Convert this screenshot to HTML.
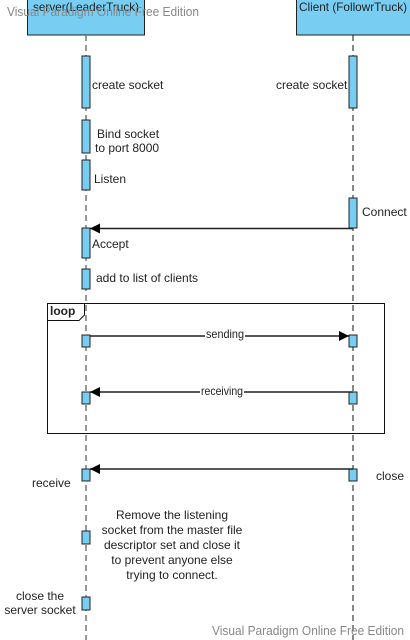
<!DOCTYPE html>
<html><head><style>body{margin:0;background:#fff}svg{display:block}text{font-family:"Liberation Sans",Arial,sans-serif;font-size:12px;fill:#222}</style></head><body>
<svg width="410" height="640" viewBox="0 0 410 640" xmlns="http://www.w3.org/2000/svg">
<defs><marker id="a" markerWidth="10" markerHeight="10" refX="10" refY="5" orient="auto" markerUnits="userSpaceOnUse"><path d="M0,0 L10,5 L0,10z" fill="#000"/></marker></defs>
<rect x="27.5" y="-1" width="117" height="36" fill="#78cdf2" stroke="#222"/>
<rect x="296.5" y="-1" width="115" height="36" fill="#78cdf2" stroke="#222"/>
<text x="33" y="11" textLength="106" lengthAdjust="spacingAndGlyphs">server(LeaderTruck)</text>
<text x="299" y="11" textLength="108" lengthAdjust="spacingAndGlyphs">Client (FollowrTruck)</text>
<text x="7" y="16" style="fill:#888;font-size:12.5px" textLength="192" lengthAdjust="spacingAndGlyphs">Visual Paradigm Online Free Edition</text>
<line x1="86" y1="35" x2="86" y2="640" stroke="#777" stroke-width="1.5" stroke-dasharray="6,4"/>
<line x1="353" y1="35" x2="353" y2="640" stroke="#111" stroke-width="1" stroke-dasharray="6,4"/>
<rect x="47.5" y="303.5" width="337" height="130" fill="none" stroke="#111"/>
<path d="M47.5,320.5 H79 L84.5,315 V303.5" fill="#fff" stroke="#111"/>
<text x="50" y="315" style="font-weight:bold">loop</text>
<g fill="#78cdf2" stroke="#222">
<rect x="82" y="56" width="8" height="52"/><rect x="82" y="120" width="8" height="33"/><rect x="82" y="160" width="8" height="30"/>
<rect x="82" y="228" width="8" height="30"/><rect x="82" y="269" width="8" height="20"/>
<rect x="82" y="335" width="8" height="12"/><rect x="82" y="392" width="8" height="12"/><rect x="82" y="469" width="8" height="12"/>
<rect x="82" y="531" width="8" height="13"/><rect x="82" y="597" width="8" height="13"/>
<rect x="349" y="56" width="8" height="52"/><rect x="349" y="198" width="8" height="30"/>
<rect x="349" y="335" width="8" height="12"/><rect x="349" y="392" width="8" height="12"/><rect x="349" y="469" width="8" height="12"/>
</g>
<g stroke="#222" stroke-width="1.5" marker-end="url(#a)">
<line x1="353" y1="228.5" x2="90" y2="228.5"/>
<line x1="90" y1="336" x2="349" y2="336"/>
<line x1="353" y1="392" x2="90" y2="392"/>
<line x1="353" y1="469" x2="90" y2="469"/>
</g>
<rect x="205" y="328" width="40" height="14" fill="#fff"/><text x="206" y="338" textLength="38" lengthAdjust="spacingAndGlyphs">sending</text>
<rect x="200" y="384" width="44" height="14" fill="#fff"/><text x="201" y="395" textLength="42" lengthAdjust="spacingAndGlyphs">receiving</text>
<text x="92" y="89">create socket</text>
<text x="276" y="89">create socket</text>
<text x="97" y="138">Bind socket</text>
<text x="95" y="152">to port 8000</text>
<text x="94" y="183">Listen</text>
<text x="362" y="216">Connect</text>
<text x="92" y="248">Accept</text>
<text x="96" y="282">add to list of clients</text>
<text x="32" y="487">receive</text>
<text x="376" y="480">close</text>
<g text-anchor="middle">
<text x="172" y="519">Remove the listening</text>
<text x="172" y="534">socket from the master file</text>
<text x="172" y="549">descriptor set and close it</text>
<text x="172" y="564">to prevent anyone else</text>
<text x="172" y="579">trying to connect.</text>
<text x="40" y="600">close the</text>
<text x="40" y="614">server socket</text>
</g>
<text x="212" y="635" style="fill:#888;font-size:12.5px" textLength="192" lengthAdjust="spacingAndGlyphs">Visual Paradigm Online Free Edition</text>
</svg>
</body></html>
